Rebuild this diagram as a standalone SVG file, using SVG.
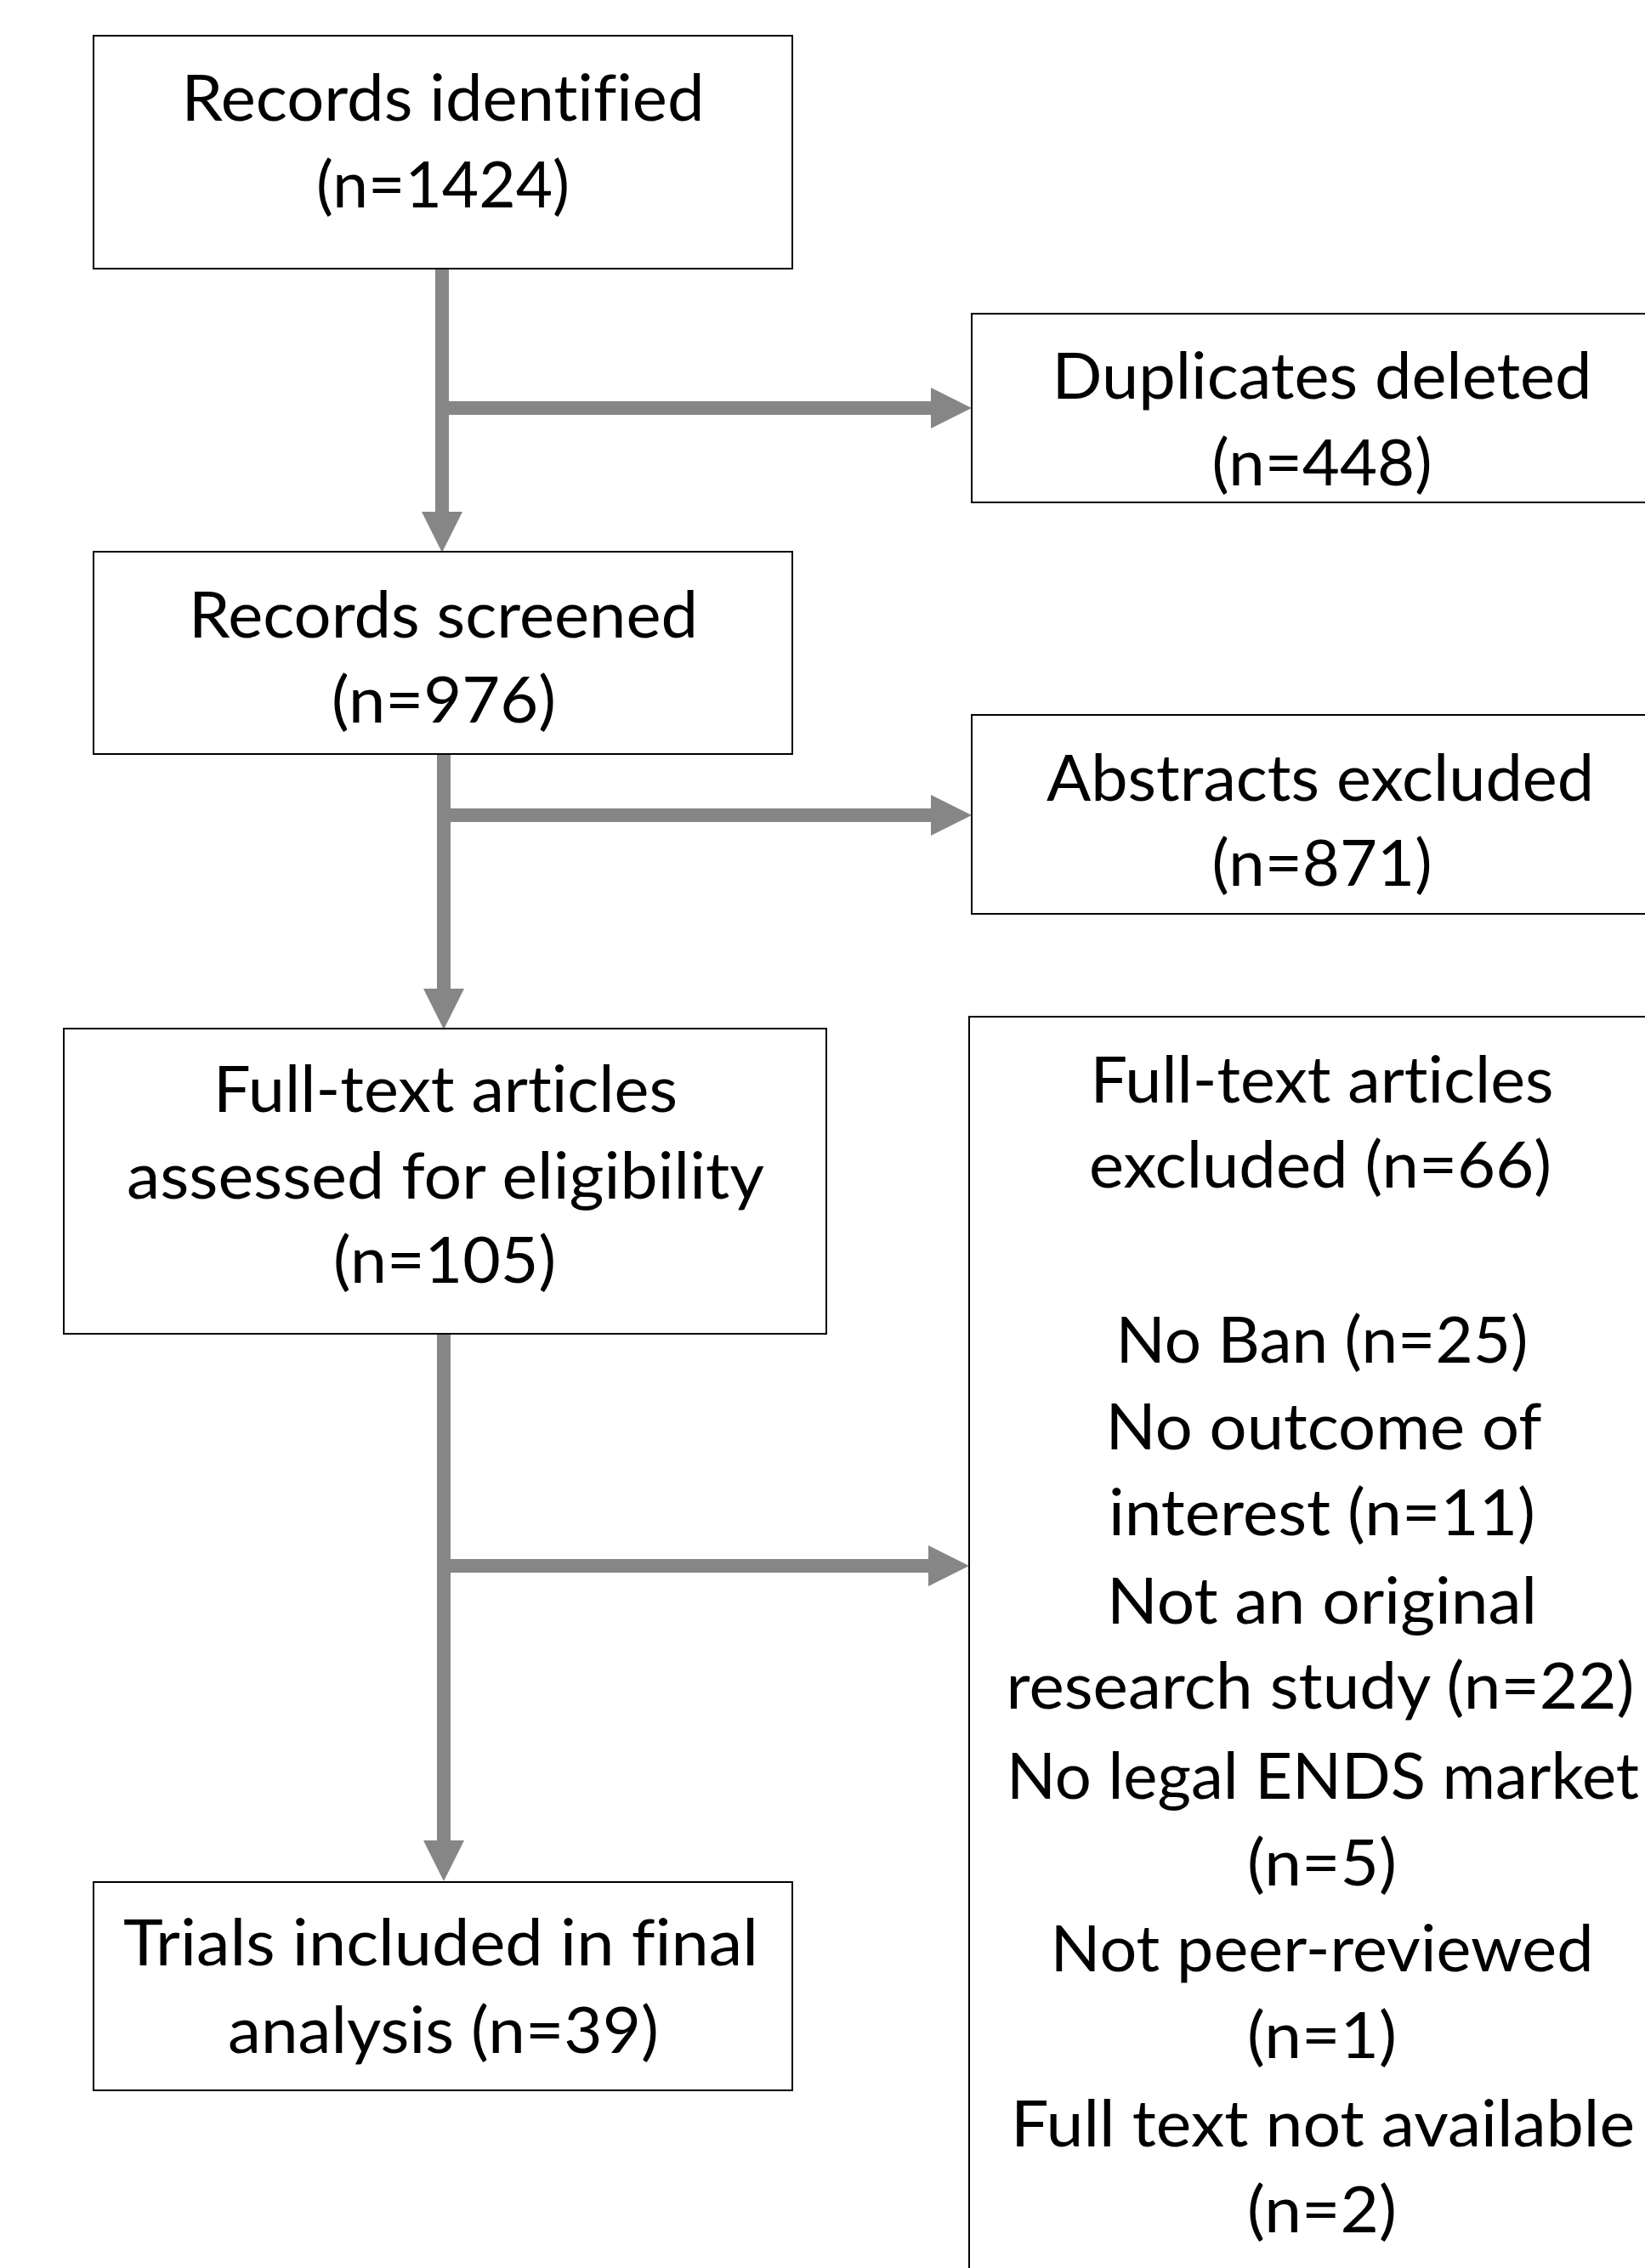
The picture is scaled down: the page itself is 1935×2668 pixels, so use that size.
<svg xmlns="http://www.w3.org/2000/svg" width="1935" height="2668" viewBox="0 0 1935 2668">
<style>
.box{fill:#fff;stroke:#000;stroke-width:2}
.t{font-family:Lato,"Open Sans","Liberation Sans",sans-serif;font-size:75px;fill:#000;text-anchor:middle;font-variant-ligatures:none}
.c{fill:none;stroke:#868686;stroke-width:16}
</style>
<defs>
<marker id="ah" markerUnits="userSpaceOnUse" markerWidth="48" markerHeight="48" refX="0" refY="24" orient="auto" overflow="visible">
<path d="M0,0 L48,24 L0,48 Z" fill="#868686"/>
</marker>
</defs>
<rect width="1935" height="2668" fill="#fff"/>
<g id="connectors">
<path class="c" d="M520,316 V602" marker-end="url(#ah)"/>
<path class="c" d="M520,480 H1095" marker-end="url(#ah)"/>
<path class="c" d="M522,887 V1163" marker-end="url(#ah)"/>
<path class="c" d="M522,959 H1095" marker-end="url(#ah)"/>
<path class="c" d="M522,1569 V2165" marker-end="url(#ah)"/>
<path class="c" d="M522,1842 H1092" marker-end="url(#ah)"/>
</g>
<g id="records-identified">
<rect class="box" x="110" y="42" width="822" height="274"/>
<text class="t" x="521" y="142" textLength="615" lengthAdjust="spacingAndGlyphs">Records identified</text>
<text class="t" x="521" y="244" textLength="298" lengthAdjust="spacingAndGlyphs">(n=1424)</text>
</g>
<g id="duplicates-deleted">
<rect class="box" x="1143" y="369" width="900" height="222"/>
<text class="t" x="1555" y="469" textLength="635" lengthAdjust="spacingAndGlyphs">Duplicates deleted</text>
<text class="t" x="1555" y="571" textLength="259" lengthAdjust="spacingAndGlyphs">(n=448)</text>
</g>
<g id="records-screened">
<rect class="box" x="110" y="649" width="822" height="238"/>
<text class="t" x="521.5" y="750" textLength="599" lengthAdjust="spacingAndGlyphs">Records screened</text>
<text class="t" x="522" y="850" textLength="264" lengthAdjust="spacingAndGlyphs">(n=976)</text>
</g>
<g id="abstracts-excluded">
<rect class="box" x="1143" y="841" width="900" height="234"/>
<text class="t" x="1553" y="942" textLength="644" lengthAdjust="spacingAndGlyphs">Abstracts excluded</text>
<text class="t" x="1555" y="1042" textLength="259" lengthAdjust="spacingAndGlyphs">(n=871)</text>
</g>
<g id="full-text-assessed">
<rect class="box" x="75" y="1210" width="897" height="359"/>
<text class="t" x="524" y="1308" textLength="546" lengthAdjust="spacingAndGlyphs">Full-text articles</text>
<text class="t" x="524" y="1410" textLength="750" lengthAdjust="spacingAndGlyphs">assessed for eligibility</text>
<text class="t" x="523" y="1509" textLength="262" lengthAdjust="spacingAndGlyphs">(n=105)</text>
</g>
<g id="full-text-excluded">
<rect class="box" x="1140" y="1196" width="900" height="1500"/>
<text class="t" x="1555" y="1297" textLength="545" lengthAdjust="spacingAndGlyphs">Full-text articles</text>
<text class="t" x="1553" y="1397" textLength="544" lengthAdjust="spacingAndGlyphs">excluded (n=66)</text>
<text class="t" x="1555" y="1603" textLength="485" lengthAdjust="spacingAndGlyphs">No Ban (n=25)</text>
<text class="t" x="1557" y="1705" textLength="513" lengthAdjust="spacingAndGlyphs">No outcome of</text>
<text class="t" x="1555" y="1806" textLength="502" lengthAdjust="spacingAndGlyphs">interest (n=11)</text>
<text class="t" x="1555" y="1910" textLength="506" lengthAdjust="spacingAndGlyphs">Not an original</text>
<text class="t" x="1553" y="2010" textLength="739" lengthAdjust="spacingAndGlyphs">research study (n=22)</text>
<text class="t" x="1556" y="2116" textLength="744" lengthAdjust="spacingAndGlyphs">No legal ENDS market</text>
<text class="t" x="1555" y="2218" textLength="176" lengthAdjust="spacingAndGlyphs">(n=5)</text>
<text class="t" x="1555" y="2319" textLength="639" lengthAdjust="spacingAndGlyphs">Not peer-reviewed</text>
<text class="t" x="1555" y="2421" textLength="176" lengthAdjust="spacingAndGlyphs">(n=1)</text>
<text class="t" x="1556" y="2525" textLength="734" lengthAdjust="spacingAndGlyphs">Full text not available</text>
<text class="t" x="1555" y="2626" textLength="176" lengthAdjust="spacingAndGlyphs">(n=2)</text>
</g>
<g id="trials-included">
<rect class="box" x="110" y="2214" width="822" height="245"/>
<text class="t" x="518.5" y="2312" textLength="747" lengthAdjust="spacingAndGlyphs">Trials included in final</text>
<text class="t" x="521.5" y="2415" textLength="507" lengthAdjust="spacingAndGlyphs">analysis (n=39)</text>
</g>
</svg>
